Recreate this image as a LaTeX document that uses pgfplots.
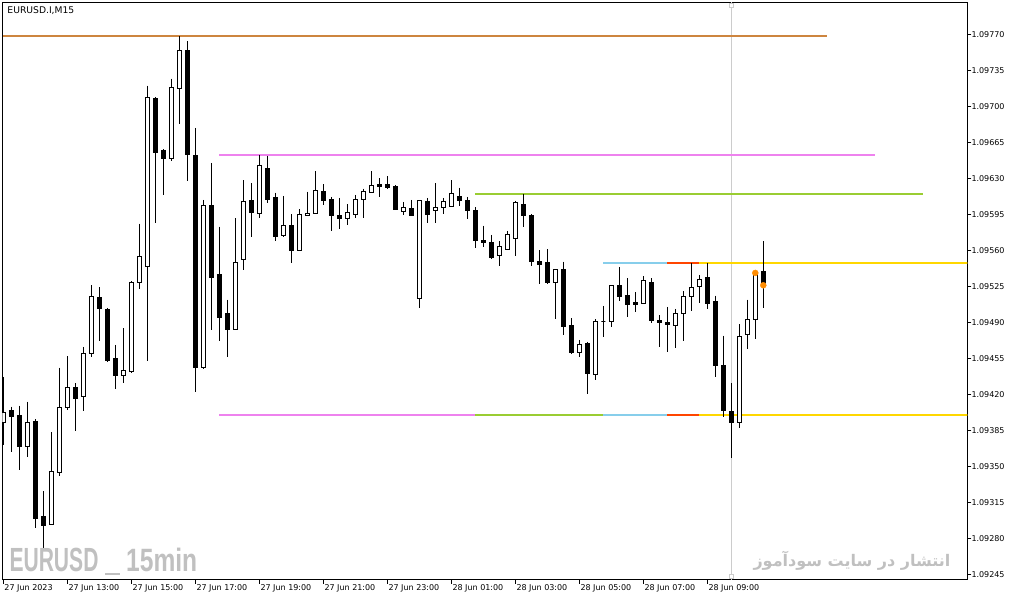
\documentclass[border=0pt]{standalone}
\usepackage{fontspec}
\setmainfont{DejaVu Sans}
\newfontfamily\arabicfont[Script=Arabic]{DejaVu Sans}
\newfontfamily\wmfont{Liberation Sans}
\TeXXeTstate=1
\usepackage{pgfplots}
\usepackage{pgfplotstable}
\pgfplotsset{compat=1.18}
\definecolor{lvlbrown}{RGB}{205,133,63}
\definecolor{lvlpink}{RGB}{238,130,238}
\definecolor{lvlgreen}{RGB}{154,205,50}
\definecolor{lvlblue}{RGB}{135,206,235}
\definecolor{lvlred}{RGB}{255,69,0}
\definecolor{lvlyellow}{RGB}{255,215,0}
\definecolor{dotorange}{RGB}{255,140,0}
\definecolor{wm}{RGB}{192,192,192}
\definecolor{xhair}{RGB}{204,204,204}

% EURUSD M15 candles: index, open, high, low, close
\pgfplotstableread{
i O H L C
0 1.09393 1.09437 1.09371 1.09402
1 1.09404 1.09408 1.09364 1.09398
2 1.09399 1.09409 1.09346 1.09369
3 1.09369 1.09413 1.09359 1.09393
4 1.09394 1.09396 1.09290 1.09299
5 1.09301 1.09326 1.09271 1.09292
6 1.09293 1.09383 1.09293 1.09345
7 1.09344 1.09446 1.09341 1.09407
8 1.09407 1.09457 1.09405 1.09427
9 1.09427 1.09431 1.09384 1.09416
10 1.09418 1.09466 1.09404 1.09460
11 1.09460 1.09526 1.09456 1.09515
12 1.09514 1.09524 1.09472 1.09503
13 1.09502 1.09504 1.09451 1.09453
14 1.09455 1.09468 1.09425 1.09438
15 1.09438 1.09484 1.09431 1.09443
16 1.09442 1.09530 1.09441 1.09529
17 1.09529 1.09586 1.09522 1.09554
18 1.09544 1.09720 1.09452 1.09709
19 1.09708 1.09709 1.09587 1.09655
20 1.09657 1.09658 1.09614 1.09649
21 1.09649 1.09727 1.09647 1.09718
22 1.09717 1.09768 1.09683 1.09754
23 1.09754 1.09763 1.09627 1.09653
24 1.09652 1.09679 1.09422 1.09446
25 1.09446 1.09609 1.09445 1.09604
26 1.09604 1.09645 1.09483 1.09534
27 1.09536 1.09583 1.09472 1.09495
28 1.09499 1.09512 1.09456 1.09483
29 1.09483 1.09591 1.09483 1.09548
30 1.09551 1.09628 1.09541 1.09607
31 1.09608 1.09625 1.09573 1.09597
32 1.09596 1.09653 1.09591 1.09642
33 1.09640 1.09652 1.09606 1.09609
34 1.09611 1.09616 1.09569 1.09573
35 1.09574 1.09613 1.09573 1.09584
36 1.09584 1.09595 1.09548 1.09560
37 1.09560 1.09600 1.09560 1.09595
38 1.09594 1.09617 1.09593 1.09596
39 1.09596 1.09637 1.09596 1.09618
40 1.09617 1.09624 1.09604 1.09608
41 1.09609 1.09612 1.09579 1.09594
42 1.09594 1.09611 1.09581 1.09591
43 1.09591 1.09605 1.09585 1.09597
44 1.09595 1.09614 1.09591 1.09609
45 1.09609 1.09620 1.09591 1.09617
46 1.09616 1.09637 1.09616 1.09623
47 1.09624 1.09630 1.09612 1.09622
48 1.09624 1.09632 1.09620 1.09621
49 1.09622 1.09623 1.09600 1.09600
50 1.09598 1.09607 1.09594 1.09602
51 1.09601 1.09609 1.09594 1.09594
52 1.09513 1.09608 1.09504 1.09608
53 1.09607 1.09611 1.09587 1.09595
54 1.09599 1.09625 1.09587 1.09602
55 1.09602 1.09611 1.09595 1.09607
56 1.09603 1.09628 1.09602 1.09615
57 1.09612 1.09621 1.09603 1.09608
58 1.09608 1.09612 1.09590 1.09599
59 1.09599 1.09602 1.09562 1.09570
60 1.09570 1.09584 1.09563 1.09568
61 1.09568 1.09575 1.09552 1.09553
62 1.09555 1.09569 1.09545 1.09564
63 1.09561 1.09579 1.09560 1.09575
64 1.09571 1.09608 1.09554 1.09606
65 1.09605 1.09615 1.09583 1.09594
66 1.09594 1.09595 1.09545 1.09549
67 1.09549 1.09560 1.09527 1.09546
68 1.09548 1.09561 1.09527 1.09529
69 1.09529 1.09541 1.09493 1.09541
70 1.09541 1.09549 1.09478 1.09486
71 1.09487 1.09494 1.09459 1.09461
72 1.09461 1.09473 1.09456 1.09468
73 1.09469 1.09471 1.09420 1.09440
74 1.09439 1.09493 1.09434 1.09491
75 1.09491 1.09506 1.09476 1.09491
76 1.09491 1.09526 1.09485 1.09526
77 1.09526 1.09544 1.09511 1.09515
78 1.09516 1.09533 1.09495 1.09507
79 1.09509 1.09519 1.09500 1.09507
80 1.09508 1.09535 1.09508 1.09531
81 1.09529 1.09533 1.09489 1.09492
82 1.09492 1.09497 1.09466 1.09490
83 1.09490 1.09505 1.09461 1.09488
84 1.09487 1.09503 1.09465 1.09499
85 1.09499 1.09520 1.09472 1.09515
86 1.09515 1.09548 1.09501 1.09524
87 1.09525 1.09536 1.09509 1.09532
88 1.09534 1.09548 1.09503 1.09508
89 1.09510 1.09516 1.09437 1.09448
90 1.09448 1.09477 1.09398 1.09404
91 1.09403 1.09431 1.09358 1.09393
92 1.09393 1.09488 1.09387 1.09476
93 1.09478 1.09512 1.09464 1.09493
94 1.09493 1.09538 1.09474 1.09538
95 1.09539 1.09569 1.09504 1.09526
}\candles

\begin{document}
\begin{tikzpicture}
\useasboundingbox (0,0) rectangle (1013pt,601pt);
\begin{axis}[
  at={(2.3pt,21pt)}, anchor=south west,
  scale only axis, width=965pt, height=577.7pt,
  xmin=-0.125, xmax=120.5,
  ymin=1.092395, ymax=1.098011,
  y coord trafo/.code={\pgfmathfloatparsenumber{#1}\pgfmathfloattosci{\pgfmathresult}\edef\pgfmathresult{\fpeval{(\pgfmathresult-1.09)*100000}}},
  y coord inv trafo/.code={\pgfmathfloatparsenumber{#1}\pgfmathfloattosci{\pgfmathresult}\edef\pgfmathresult{\fpeval{\pgfmathresult/100000+1.09}}},
  axis line style={line width=1pt, black},
  xtick={0,8,16,24,32,40,48,56,64,72,80,88},
  xticklabels={27 Jun 2023,27 Jun 13:00,27 Jun 15:00,27 Jun 17:00,27 Jun 19:00,27 Jun 21:00,27 Jun 23:00,28 Jun 01:00,28 Jun 03:00,28 Jun 05:00,28 Jun 07:00,28 Jun 09:00},
  ytick={1.09245,1.09280,1.09315,1.09350,1.09385,1.09420,1.09455,1.09490,1.09525,1.09560,1.09595,1.09630,1.09665,1.09700,1.09735,1.09770},
  yticklabels={1.09245,1.09280,1.09315,1.09350,1.09385,1.09420,1.09455,1.09490,1.09525,1.09560,1.09595,1.09630,1.09665,1.09700,1.09735,1.09770},
  xtick pos=left, xticklabel pos=left,
  ytick pos=right, yticklabel pos=right,
  tick align=outside, major tick length=4pt,
  tick style={black, line width=1pt},
  ticklabel style={font=\fontsize{8}{9.6}\selectfont, inner sep=0pt},
  xticklabel style={anchor=north west, xshift=1pt},
  yticklabel style={anchor=west},
  clip=true,
]
% crosshair
\addplot[xhair, line width=1pt, forget plot] coordinates {(91,1.092395) (91,1.098011)};
\addplot[only marks, mark=square*, mark size=2pt, mark options={fill=white, draw=xhair, line width=0.8pt}, forget plot] coordinates {(91,1.09798) (91,1.09243)};
% horizontal levels
\addplot[lvlbrown, line width=2pt, forget plot] coordinates {(0,1.09768) (103,1.09768)};
\addplot[lvlpink, line width=2pt, forget plot] coordinates {(27,1.09653) (109,1.09653)};
\addplot[lvlgreen, line width=2pt, forget plot] coordinates {(59,1.09615) (115,1.09615)};
\addplot[lvlpink, line width=2pt, forget plot] coordinates {(27,1.09400) (59,1.09400)};
\addplot[lvlgreen, line width=2pt, forget plot] coordinates {(59,1.09400) (75,1.09400)};
\addplot[lvlblue, line width=2pt, forget plot] coordinates {(75,1.09400) (83,1.09400)};
\addplot[lvlred, line width=2pt, forget plot] coordinates {(83,1.09400) (87,1.09400)};
\addplot[lvlyellow, line width=2pt, forget plot] coordinates {(87,1.09400) (121,1.09400)};
\addplot[lvlblue, line width=2pt, forget plot] coordinates {(75,1.09548) (83,1.09548)};
\addplot[lvlred, line width=2pt, forget plot] coordinates {(83,1.09548) (87,1.09548)};
\addplot[lvlyellow, line width=2pt, forget plot] coordinates {(87,1.09548) (121,1.09548)};
% candles
\pgfplotsinvokeforeach{0,...,95}{
  \pgfplotstablegetelem{#1}{O}\of\candles\edef\cO{\pgfplotsretval}
  \pgfplotstablegetelem{#1}{H}\of\candles\edef\cH{\pgfplotsretval}
  \pgfplotstablegetelem{#1}{L}\of\candles\edef\cL{\pgfplotsretval}
  \pgfplotstablegetelem{#1}{C}\of\candles\edef\cC{\pgfplotsretval}
  \ifnum\fpeval{\cC>\cO}=1 \def\cfill{white}\else\def\cfill{black}\fi
  \edef\cmd{\noexpand\addplot[black, line width=1pt, forget plot] coordinates {(#1,\cH) (#1,\cL)};
    \noexpand\addplot[draw=black, fill=\cfill, line width=1pt, line join=miter, forget plot] coordinates {(\fpeval{#1-0.25},\cO) (\fpeval{#1+0.25},\cO) (\fpeval{#1+0.25},\cC) (\fpeval{#1-0.25},\cC)} -- cycle;}
  \cmd
}
% last closes
\addplot[only marks, mark=*, mark size=3pt, dotorange, mark options={draw=dotorange, fill=dotorange}, forget plot] coordinates {(94,1.09538) (95,1.09526)};
\end{axis}
\node[anchor=west, inner sep=0pt, font=\fontsize{9.2}{11}\selectfont] at (7.3pt,590.3pt) {EURUSD.I,M15};
\node[anchor=south west, inner sep=0pt, text=wm] at (9.3pt,29.3pt) {\resizebox{89pt}{23.4pt}{\wmfont\bfseries EURUSD}};
\node[anchor=south west, inner sep=0pt, text=wm] at (105pt,25.7pt) {\rule{15pt}{2pt}};
\node[anchor=south west, inner sep=0pt, text=wm] at (126pt,29.3pt) {\resizebox{71pt}{23.4pt}{\wmfont\bfseries 15min}};
\node[anchor=center, inner sep=0pt, text=wm, font=\arabicfont\bfseries\fontsize{16}{19}\selectfont] at (852pt,40pt) {\beginR انتشار در سایت سودآموز\endR};
\end{tikzpicture}
\end{document}
